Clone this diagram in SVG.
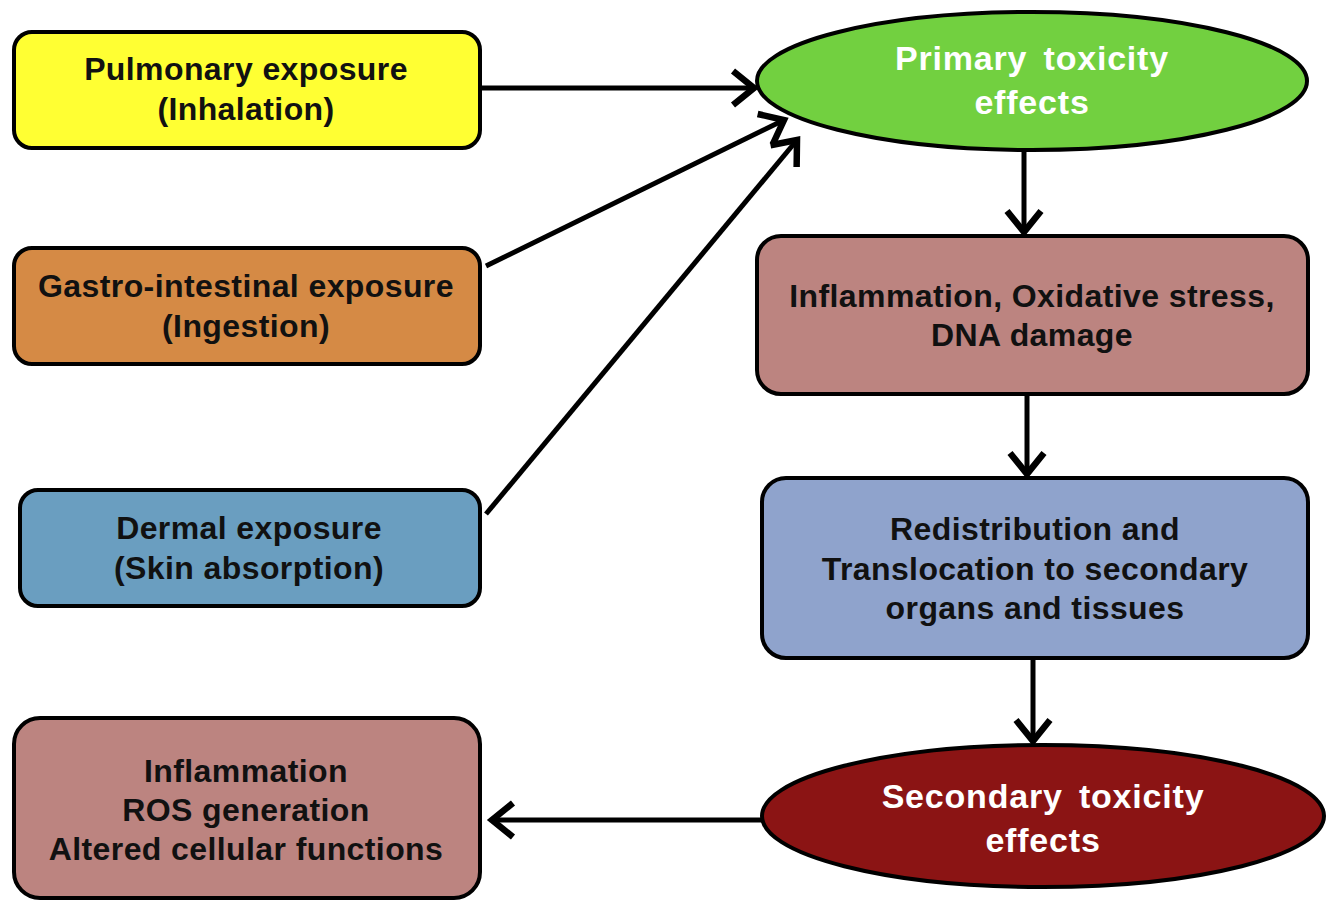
<svg xmlns="http://www.w3.org/2000/svg" width="1337" height="901" viewBox="0 0 1337 901">
<defs>
<style>
.box{stroke:#000;stroke-width:4}
.t{font-family:"Liberation Sans",Arial,sans-serif;font-weight:bold;font-size:32px;letter-spacing:0.4px;text-anchor:middle;fill:#111}
.w{font-family:"Liberation Sans",Arial,sans-serif;font-weight:bold;font-size:34px;letter-spacing:0.8px;text-anchor:middle;fill:#fff;word-spacing:6px}
.c{stroke:#000;stroke-width:5;fill:none;marker-end:url(#ah)}
</style>
<marker id="ah" markerUnits="userSpaceOnUse" markerWidth="36" markerHeight="46" refX="26" refY="21" orient="auto">
<path d="M5,4 L26,21 L5,38" fill="none" stroke="#000" stroke-width="6.5" stroke-linejoin="miter"/>
</marker>
</defs>
<rect width="1337" height="901" fill="#fff"/>
<g id="connectors">
<line class="c" x1="480" y1="88" x2="754" y2="88"/>
<line class="c" x1="486" y1="266" x2="784" y2="120"/>
<line class="c" x1="486" y1="514" x2="797" y2="140"/>
<line class="c" x1="1024" y1="150" x2="1024" y2="232"/>
<line class="c" x1="1027" y1="394" x2="1027" y2="474"/>
<line class="c" x1="1033" y1="658" x2="1033" y2="741"/>
<line class="c" x1="762" y1="820" x2="492" y2="820"/>
</g>
<g id="pulmonary">
<rect class="box" x="14" y="32" width="466" height="116" rx="18" fill="#FFFF33"/>
<text class="t" x="246" y="80">Pulmonary exposure</text>
<text class="t" x="246" y="120">(Inhalation)</text>
</g>
<g id="gastro">
<rect class="box" x="14" y="248" width="466" height="116" rx="18" fill="#D58A45"/>
<text class="t" x="246" y="297">Gastro-intestinal exposure</text>
<text class="t" x="246" y="337">(Ingestion)</text>
</g>
<g id="dermal">
<rect class="box" x="20" y="490" width="460" height="116" rx="18" fill="#6A9EC0"/>
<text class="t" x="249" y="539">Dermal exposure</text>
<text class="t" x="249" y="579">(Skin absorption)</text>
</g>
<g id="cellular">
<rect class="box" x="14" y="718" width="466" height="180" rx="26" fill="#BC8480"/>
<text class="t" x="246" y="782">Inflammation</text>
<text class="t" x="246" y="821">ROS generation</text>
<text class="t" x="246" y="860">Altered cellular functions</text>
</g>
<g id="primary">
<ellipse class="box" cx="1032" cy="81" rx="275" ry="69" fill="#72D040"/>
<text class="w" x="1032" y="70">Primary toxicity</text>
<text class="w" x="1032" y="114">effects</text>
</g>
<g id="inflammation">
<rect class="box" x="757" y="236" width="551" height="158" rx="24" fill="#BC8480"/>
<text class="t" x="1032" y="307">Inflammation, Oxidative stress,</text>
<text class="t" x="1032" y="346">DNA damage</text>
</g>
<g id="redistribution">
<rect class="box" x="762" y="478" width="546" height="180" rx="24" fill="#8FA3CC"/>
<text class="t" x="1035" y="540">Redistribution and</text>
<text class="t" x="1035" y="580">Translocation to secondary</text>
<text class="t" x="1035" y="619">organs and tissues</text>
</g>
<g id="secondary">
<ellipse class="box" cx="1043" cy="816" rx="281" ry="71" fill="#8B1414"/>
<text class="w" x="1043" y="808">Secondary toxicity</text>
<text class="w" x="1043" y="852">effects</text>
</g>
</svg>
